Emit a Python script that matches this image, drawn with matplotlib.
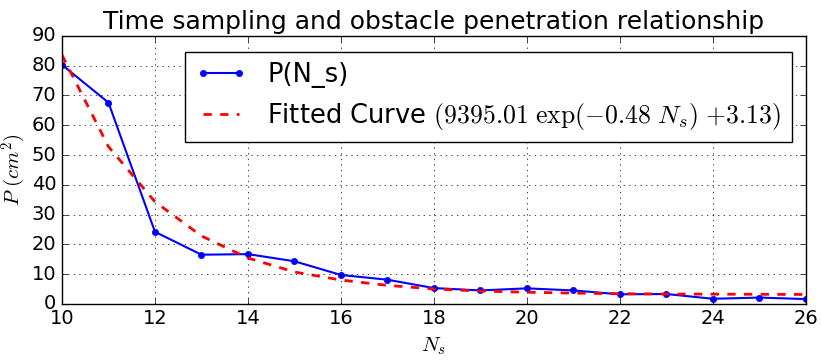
import numpy as np
import matplotlib
matplotlib.use('Agg')
from matplotlib import pyplot as plt

plt.style.use('classic')

# sample counts
n_s = [10, 11, 12, 13, 14, 15, 16, 17, 18, 19, 20, 21, 22, 23, 24, 25, 26]
# measured penetration area
p_meas = [80.3, 67.6, 24.2, 16.5, 16.7, 14.3, 9.7, 8.1, 5.3, 4.5, 5.2, 4.5, 3.2, 3.3, 1.7, 2.1, 1.6]
# fitted curve
p_fit = [83.6, 52.8, 34.3, 22.8, 15.4, 10.7, 8.0, 6.2, 5.0, 4.3, 3.9, 3.6, 3.4, 3.3, 3.25, 3.2, 3.15]

fit_label = r'Fitted Curve $(9395.01\ \exp(-0.48\ N_s)\ {+3.13})$'

fig = plt.figure(figsize=(8.21, 3.63), dpi=100, facecolor='white')
ax = fig.add_axes([0.0755, 0.163, 0.906, 0.738])

ax.plot(n_s, p_meas, 'b-', marker='o', markersize=4.5, markeredgecolor='b',
        linewidth=1.5, label='P(N_s)')
ax.plot(n_s, p_fit, 'r--', linewidth=2, label=fit_label)

ax.set_xlim(10, 26)
ax.set_ylim(0, 90)
ax.set_xticks(np.arange(10, 27, 2))
ax.set_yticks(np.arange(0, 91, 10))
ax.tick_params(labelsize=14)
plt.grid(True)

ax.set_title('Time sampling and obstacle penetration relationship', fontsize=18)
ax.set_xlabel(r'$N_s$', fontsize=15)
ax.set_ylabel(r'$P\ (cm^2)$', fontsize=15)
ax.yaxis.set_label_coords(-0.046, 0.5)

ax.legend(loc='upper right', bbox_to_anchor=(0.981, 0.94), fontsize=18.5,
          handlelength=2.0, borderaxespad=0.0)

plt.savefig('out.png', dpi=100, facecolor='white')
